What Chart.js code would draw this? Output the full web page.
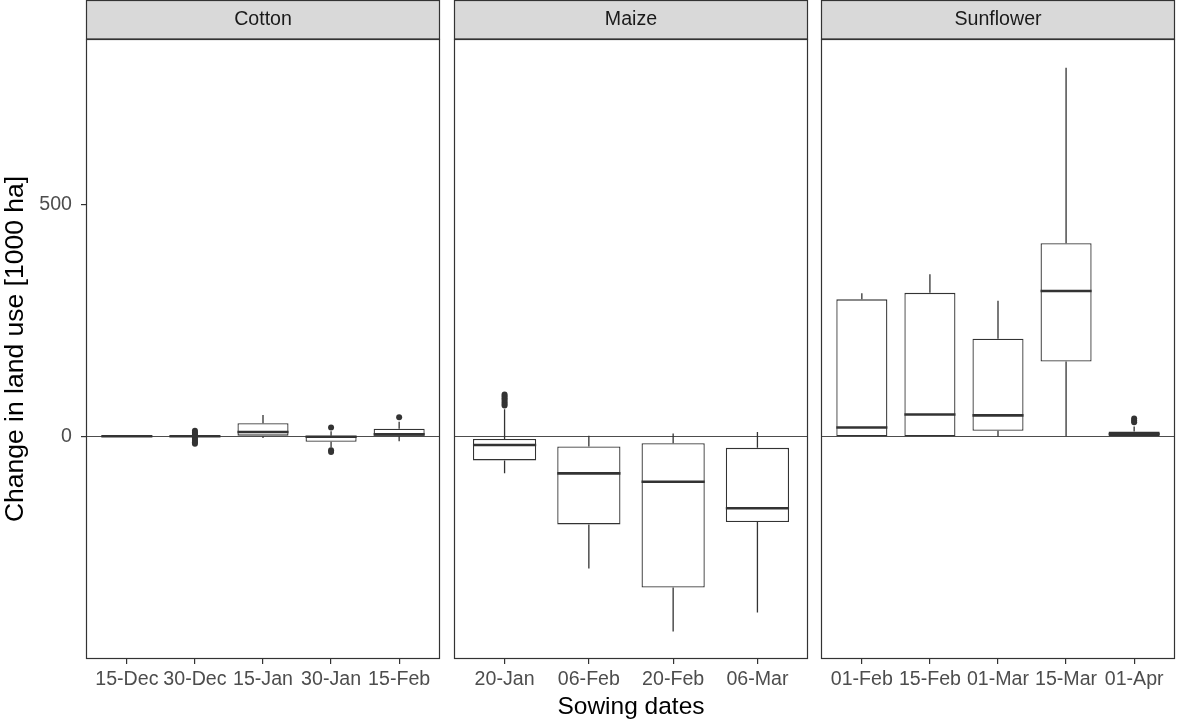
<!DOCTYPE html>
<html>
<head>
<meta charset="utf-8">
<title>Change in land use by sowing date</title>
<script src="https://cdn.jsdelivr.net/npm/chart.js@4.4.1/dist/chart.umd.min.js"></script>
<style>
  html, body { margin: 0; padding: 0; background: #fff; }
  #figure { position: relative; width: 1177px; height: 724px; overflow: hidden; }
  #figure canvas { position: absolute; top: 0; }
</style>
</head>
<body>
<div id="figure">
  <canvas id="cottonChart" width="441" height="724" style="left:0"></canvas>
  <canvas id="maizeChart" width="356" height="724" style="left:453px"></canvas>
  <canvas id="sunflowerChart" width="356" height="724" style="left:820px"></canvas>
</div>
<script>
// Box statistics per sowing date (1000 ha)
const cottonDates    = ['15-Dec', '30-Dec', '15-Jan', '30-Jan', '15-Feb'];
const cottonLower    = [-1, -2, -4, -24, -11];
const cottonQ1       = [-0.5, -1, 0, -12, 0];
const cottonMedian   = [0, 0, 9, -1, 4];
const cottonQ3       = [0.5, 1, 28, 1, 16];
const cottonUpper    = [1, 2, 46, 11, 31];
const cottonOutliers = [[], [12, 8, 5, 2, -3, -6, -10, -13, -16], [], [19, -30, -34], [41]];

const maizeDates    = ['20-Jan', '06-Feb', '20-Feb', '06-Mar'];
const maizeLower    = [-80, -285, -421, -380];
const maizeQ1       = [-52, -190, -326, -185];
const maizeMedian   = [-19, -80, -98, -155];
const maizeQ3       = [-6, -22, -15, -25];
const maizeUpper    = [58, 1, 6, 9];
const maizeOutliers = [[90, 86, 82, 78, 74, 70, 66], [], [], []];

const sunflowerDates    = ['01-Feb', '15-Feb', '01-Mar', '15-Mar', '01-Apr'];
const sunflowerLower    = [0, 0, 0, 0, 0];
const sunflowerQ1       = [0, 0, 12, 161, 0];
const sunflowerMedian   = [19, 47, 45, 313, 5];
const sunflowerQ3       = [295, 309, 210, 416, 10];
const sunflowerUpper    = [308, 349, 292, 794, 21];
const sunflowerOutliers = [[], [], [], [], [38, 34, 30]];

const yTicks = [0, 500];
const yMin = -480;
const yMax = 856;

const FONT = "'Liberation Sans', Arial, Helvetica, sans-serif";
const INK = '#333333';

function makePanel(canvasId, crop, dates, lower, q1, median, q3, upper, outliers, opts) {
    // strip, whiskers, medians and panel frame, all placed with the chart scales
    const boxPlugin = {
        id: 'boxPanel',
        beforeDraw(chart) {
            const { ctx, chartArea } = chart;
            const w = chartArea.right - chartArea.left;
            ctx.save();
            ctx.fillStyle = '#D9D9D9';
            ctx.fillRect(chartArea.left, 0, w, chartArea.top);
            ctx.strokeStyle = INK;
            ctx.lineWidth = 1.2;
            ctx.strokeRect(chartArea.left + 0.5, 0.5, w - 1, chartArea.top - 0.5);
            ctx.fillStyle = '#1A1A1A';
            ctx.font = '19.6px ' + FONT;
            ctx.textAlign = 'center';
            ctx.textBaseline = 'middle';
            ctx.fillText(crop, chartArea.left + w / 2, chartArea.top / 2);
            ctx.restore();
        },
        beforeDatasetsDraw(chart) {
            const { ctx, chartArea, scales: { y } } = chart;
            ctx.save();
            // zero reference line
            const y0 = Math.round(y.getPixelForValue(0)) + 0.5;
            ctx.strokeStyle = '#4D4D4D';
            ctx.lineWidth = 1;
            ctx.beginPath();
            ctx.moveTo(chartArea.left, y0);
            ctx.lineTo(chartArea.right, y0);
            ctx.stroke();
            // whiskers
            ctx.strokeStyle = INK;
            ctx.lineWidth = 1.3;
            const meta = chart.getDatasetMeta(0);
            meta.data.forEach((bar, i) => {
                const x = bar.x;
                ctx.beginPath();
                ctx.moveTo(x, y.getPixelForValue(upper[i]));
                ctx.lineTo(x, y.getPixelForValue(q3[i]));
                ctx.moveTo(x, y.getPixelForValue(q1[i]));
                ctx.lineTo(x, y.getPixelForValue(lower[i]));
                ctx.stroke();
            });
            ctx.restore();
        },
        afterDatasetsDraw(chart) {
            const { ctx, chartArea, scales: { y } } = chart;
            ctx.save();
            ctx.strokeStyle = INK;
            ctx.lineWidth = 2.6;
            const meta = chart.getDatasetMeta(0);
            meta.data.forEach((bar, i) => {
                const ym = y.getPixelForValue(median[i]);
                ctx.beginPath();
                ctx.moveTo(bar.x - bar.width / 2, ym);
                ctx.lineTo(bar.x + bar.width / 2, ym);
                ctx.stroke();
            });
            // panel frame
            ctx.lineWidth = 1.2;
            ctx.strokeRect(chartArea.left + 0.5, chartArea.top + 0.5,
                chartArea.right - chartArea.left - 1, chartArea.bottom - chartArea.top - 1);
            ctx.restore();
        }
    };

    const boxes = dates.map((d, i) => ({ x: i, y: [q1[i], q3[i]] }));
    const points = outliers.flatMap((vals, i) => vals.map(v => ({ x: i, y: v })));

    return new Chart(document.getElementById(canvasId), {
        type: 'bar',
        data: {
            datasets: [{
                type: 'bar',
                data: boxes,
                backgroundColor: '#FFFFFF',
                borderColor: INK,
                borderWidth: 1.3,
                borderSkipped: false,
                barPercentage: 0.75,
                categoryPercentage: 1
            }, {
                type: 'scatter',
                data: points,
                backgroundColor: INK,
                borderWidth: 0,
                pointRadius: 3,
                pointHoverRadius: 3
            }]
        },
        options: {
            responsive: false,
            animation: false,
            events: [],
            layout: {
                autoPadding: false,
                padding: { top: 39, left: opts.showY ? 0 : 1, right: 1, bottom: 0 }
            },
            plugins: {
                legend: { display: false },
                tooltip: { enabled: false }
            },
            scales: {
                x: {
                    type: 'linear',
                    offset: false,
                    min: -0.6,
                    max: dates.length - 0.4,
                    afterBuildTicks: (scale) => {
                        scale.ticks = dates.map((_, i) => ({ value: i }));
                    },
                    afterFit: (scale) => {
                        scale.height = 65;
                        scale.paddingLeft = 0;
                        scale.paddingRight = 0;
                    },
                    ticks: {
                        callback: (v) => dates[v],
                        color: '#4D4D4D',
                        font: { family: FONT, size: 19.6 },
                        padding: 4,
                        maxRotation: 0,
                        autoSkip: false
                    },
                    grid: {
                        offset: false,
                        drawOnChartArea: false,
                        drawTicks: true,
                        tickLength: 5,
                        color: INK,
                        lineWidth: 1.2
                    },
                    border: { display: false },
                    title: {
                        display: !!opts.showXTitle,
                        text: 'Sowing dates',
                        color: '#000000',
                        font: { family: FONT, size: 24.5 },
                        padding: { top: 0, bottom: 2 }
                    }
                },
                y: {
                    display: !!opts.showY,
                    min: yMin,
                    max: yMax,
                    afterBuildTicks: (scale) => {
                        scale.ticks = yTicks.map(v => ({ value: v }));
                    },
                    afterFit: (scale) => {
                        if (opts.showY) scale.width = 86;
                        scale.paddingTop = 0;
                        scale.paddingBottom = 0;
                    },
                    ticks: {
                        color: '#4D4D4D',
                        font: { family: FONT, size: 19.6 },
                        padding: 9
                    },
                    grid: { drawOnChartArea: false, drawTicks: true, tickLength: 5, color: INK, lineWidth: 1.2 },
                    border: { display: false },
                    title: {
                        display: true,
                        text: 'Change in land use [1000 ha]',
                        color: '#000000',
                        font: { family: FONT, size: 26.5 },
                        padding: 0
                    }
                }
            }
        },
        plugins: [boxPlugin]
    });
}

makePanel('cottonChart', 'Cotton', cottonDates, cottonLower, cottonQ1, cottonMedian,
    cottonQ3, cottonUpper, cottonOutliers, { showY: true });
makePanel('maizeChart', 'Maize', maizeDates, maizeLower, maizeQ1, maizeMedian,
    maizeQ3, maizeUpper, maizeOutliers, { showXTitle: true });
makePanel('sunflowerChart', 'Sunflower', sunflowerDates, sunflowerLower, sunflowerQ1, sunflowerMedian,
    sunflowerQ3, sunflowerUpper, sunflowerOutliers, {});
</script>
</body>
</html>
